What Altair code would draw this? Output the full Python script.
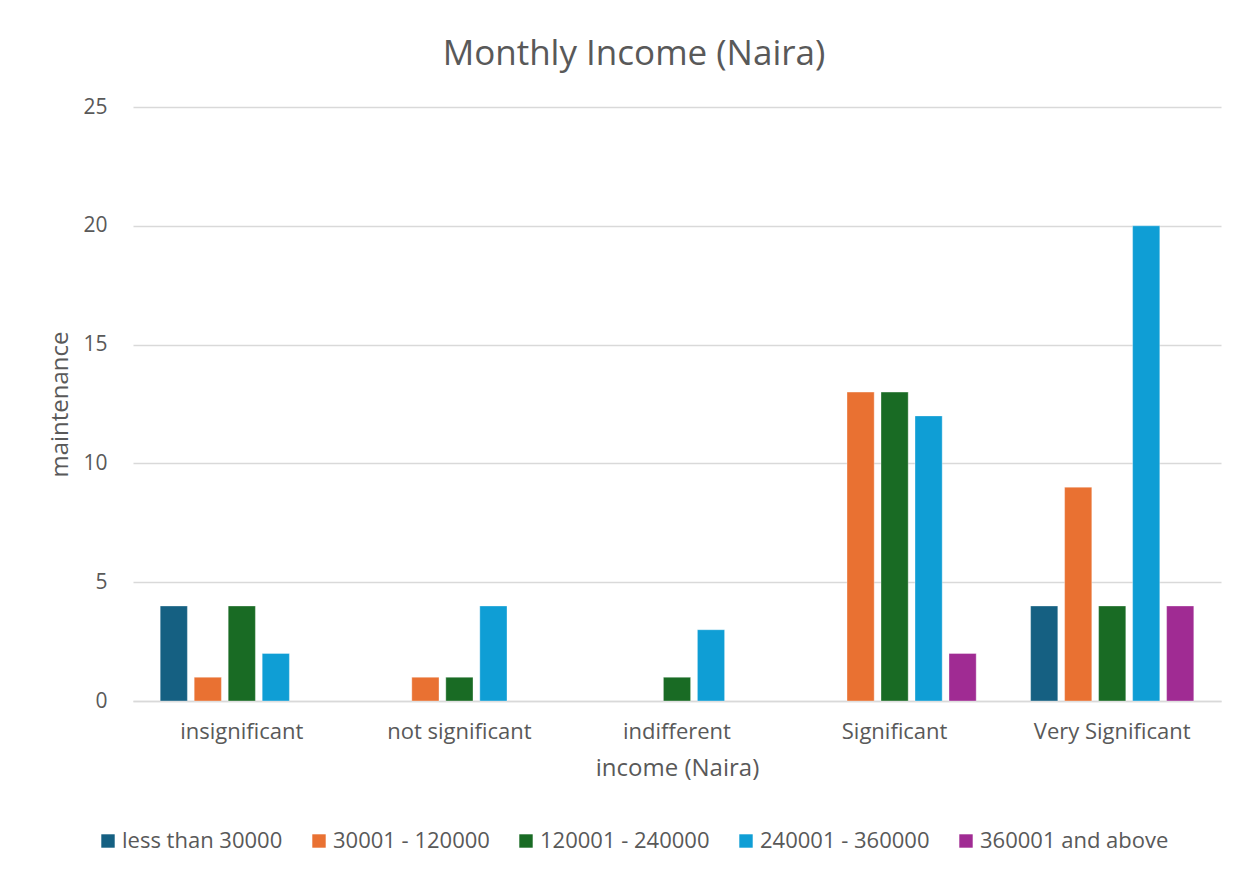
import altair as alt
import pandas as pd

categories = ["insignificant", "not significant", "indifferent", "Significant", "Very Significant"]
series = ["less than 30000", "30001 - 120000", "120001 - 240000", "240001 - 360000", "360001 and above"]
values = {
    "less than 30000": [4, 0, 0, 0, 4],
    "30001 - 120000": [1, 1, 0, 13, 9],
    "120001 - 240000": [4, 1, 1, 13, 4],
    "240001 - 360000": [2, 4, 3, 12, 20],
    "360001 and above": [0, 0, 0, 2, 4],
}
colors = ["#156082", "#E97132", "#196B24", "#0F9ED5", "#A02B93"]

rows = []
for s in series:
    for c, v in zip(categories, values[s]):
        rows.append({"category": c, "series": s, "value": v})
df = pd.DataFrame(rows)

FONT = "Open Sans"
TXT = "#595959"

chart = alt.Chart(df).transform_filter(alt.datum.value > 0).mark_bar(
    stroke="white", strokeOpacity=0.35, strokeWidth=1
).encode(
    x=alt.X("category:N", sort=categories, title="income (Naira)",
            scale=alt.Scale(domain=categories, paddingInner=0.25, paddingOuter=0.125),
            axis=alt.Axis(labelAngle=0, labelFontSize=22, labelColor=TXT, labelFont=FONT,
                          labelPadding=20, ticks=False, domainColor="#D9D9D9", domainWidth=1.5,
                          titleFontSize=24, titleColor=TXT, titleFont=FONT, titleFontWeight="normal",
                          titlePadding=14)),
    xOffset=alt.XOffset("series:N", sort=series,
                        scale=alt.Scale(domain=series, paddingInner=0.2, paddingOuter=0)),
    y=alt.Y("value:Q", title="maintenance",
            scale=alt.Scale(domain=[0, 25], nice=False),
            axis=alt.Axis(values=[0, 5, 10, 15, 20, 25], labelFontSize=21, labelColor=TXT, labelFont=FONT,
                          labelPadding=26, ticks=False, domain=False, gridColor="#D9D9D9", gridWidth=1.5,
                          titleFontSize=24, titleColor=TXT, titleFont=FONT, titleFontWeight="normal",
                          titlePadding=10)),
    color=alt.Color("series:N", sort=series, title=None,
                    scale=alt.Scale(domain=series, range=colors),
                    legend=alt.Legend(orient="none", legendX=-36, legendY=723, direction="horizontal",
                                      symbolType="square", symbolSize=180, symbolStrokeWidth=0,
                                      labelFontSize=22, labelColor=TXT, labelFont=FONT, labelLimit=0,
                                      columnPadding=25, labelOffset=3)),
).properties(
    width=1088,
    height=594,
    title=alt.TitleParams("Monthly Income (Naira)", fontSize=35, color=TXT, font=FONT,
                          fontWeight="normal", anchor="middle", offset=24, dx=-43),
    autosize=alt.AutoSizeParams(type="none"),
    padding={"left": 125, "top": 99, "right": 18, "bottom": 160},
).configure_view(stroke=None)

chart.save("out.html", embed_options={"renderer": "svg", "actions": False})
